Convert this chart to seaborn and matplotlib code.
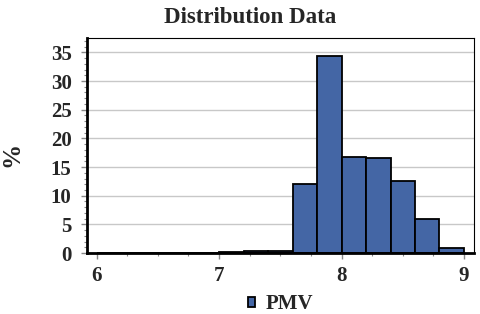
import numpy as np
import pandas as pd
import matplotlib
matplotlib.use("Agg")
import matplotlib.pyplot as plt
import seaborn as sns
from matplotlib.ticker import MultipleLocator

# bin edges and percentage per bin
bin_edges = [6.0, 6.2, 6.4, 6.6, 6.8, 7.0, 7.2, 7.4, 7.6, 7.8, 8.0, 8.2, 8.4, 8.6, 8.8, 9.0]
bin_left = bin_edges[:-1]
percent = [0.1, 0.1, 0.1, 0.1, 0.1, 0.2, 0.4, 0.4, 12.1, 34.4, 16.8, 16.5, 12.5, 6.0, 0.8]

df = pd.DataFrame({"PMV": [x + 0.1 for x in bin_left], "pct": percent})

sns.set_theme(style="white")
plt.rcParams['font.family'] = ['Liberation Serif', 'DejaVu Serif']
plt.rcParams['font.weight'] = 'bold'

fig = plt.figure(figsize=(4.8, 3.14), dpi=100)
ax = fig.add_axes([0.181, 0.194, 0.806, 0.685])

sns.histplot(data=df, x="PMV", weights="pct", bins=bin_edges, ax=ax,
             color="#4466a5", alpha=1.0, edgecolor="black", linewidth=1.3,
             label="PMV")

ax.set_xlim(5.92, 9.08)
ax.set_ylim(0, 37.5)
ax.yaxis.set_major_locator(MultipleLocator(5))
ax.yaxis.set_minor_locator(MultipleLocator(1))
ax.xaxis.set_major_locator(MultipleLocator(1))
ax.xaxis.set_minor_locator(MultipleLocator(0.25))
ax.grid(axis='y', color='#c8c8c8', linewidth=1)
ax.set_axisbelow(True)

for s in ['top', 'right']:
    ax.spines[s].set_color('black')
    ax.spines[s].set_linewidth(0.8)
for s in ['left', 'bottom']:
    ax.spines[s].set_color('black')
    ax.spines[s].set_linewidth(2)

ax.tick_params(axis='both', which='major', direction='out', length=4, width=1,
               color='#888888', labelsize=15)
ax.tick_params(axis='y', which='major', pad=7)
ax.tick_params(axis='x', which='major', pad=5)
ax.tick_params(axis='both', which='minor', direction='out', length=2, width=0.8,
               color='#888888')
ax.tick_params(axis='y', left=True, which='both')
ax.tick_params(axis='x', bottom=True, which='both')
for lbl in ax.get_xticklabels() + ax.get_yticklabels():
    lbl.set_fontweight('bold')

ax.set_xlabel("")
ax.set_ylabel("%", fontsize=18, fontweight='bold')
ax.yaxis.set_label_coords(-0.163, 0.46)
ax.set_title("Distribution Data", fontsize=16.5, fontweight='bold', pad=11, x=0.421)

ax.legend(loc='upper center', bbox_to_anchor=(0.5, -0.105), frameon=False,
          handlelength=0.35, handleheight=0.35, handletextpad=0.5,
          prop={'size': 15, 'weight': 'bold'})

fig.savefig("out.png", dpi=100)
